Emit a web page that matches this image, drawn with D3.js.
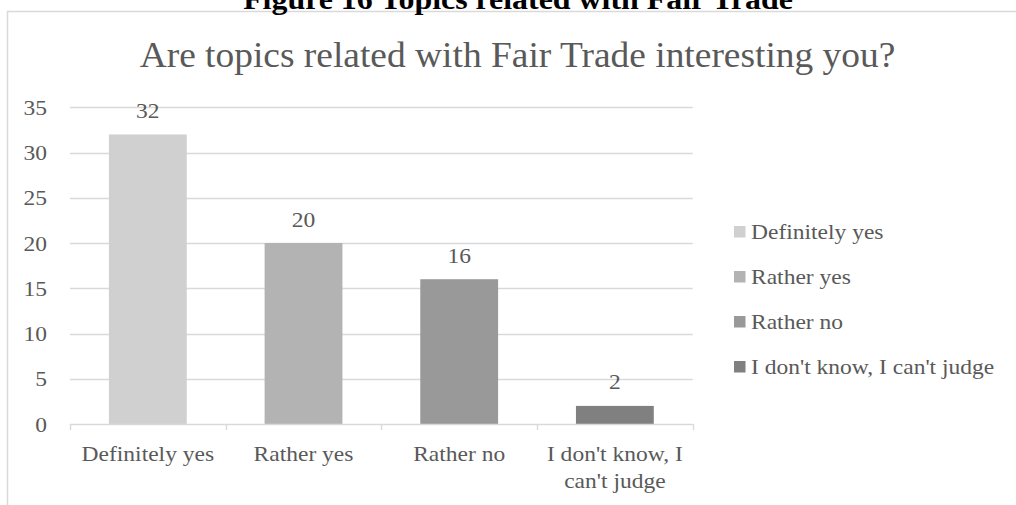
<!DOCTYPE html>
<html><head><meta charset="utf-8">
<script src="https://cdn.jsdelivr.net/npm/d3@7"></script>
<style>html,body{margin:0;padding:0;background:#fff;}svg{display:block;}</style>
</head><body>
<svg id="c" width="1016" height="505"></svg>
<script>
const categories = ["Definitely yes", "Rather yes", "Rather no", "I don't know, I can't judge"];
const categoryLines = [["Definitely yes"], ["Rather yes"], ["Rather no"], ["I don't know, I", "can't judge"]];
const values = [32, 20, 16, 2];
const colors = ["#d0d0d0", "#b3b3b3", "#999999", "#808080"];
const yTicks = [0, 5, 10, 15, 20, 25, 30, 35];
const caption = "Figure 16 Topics related with Fair Trade";
const title = "Are topics related with Fair Trade interesting you?";

const svg = d3.select("#c");
const font = "'Liberation Serif','Times New Roman',serif";
const txt = "#595959";
const grid = "#d9d9d9";
const FS = 21, SX = 1.12;

// helper: horizontally stretched text
function stext(parent, x, y, str, opts) {
  opts = opts || {};
  const sx = opts.sx || SX;
  const t = parent.append("text")
    .attr("transform", `translate(${x},${y}) scale(${sx},1)`)
    .attr("text-anchor", opts.anchor || "start")
    .attr("font-family", font)
    .attr("font-size", opts.size || FS)
    .attr("font-weight", opts.weight || "normal")
    .attr("fill", opts.fill || txt)
    .text(str);
  return t;
}

// chart border
svg.append("rect").attr("x", 7.5).attr("y", 11.5).attr("width", 1030).attr("height", 520)
  .attr("fill", "none").attr("stroke", grid).attr("stroke-width", 1.5);

// caption (cut off at top as in the reference)
stext(svg, 518, 9, caption, {anchor: "middle", size: 29, weight: "bold", fill: "#000", sx: 1.1});

// title
stext(svg, 517.5, 67, title, {anchor: "middle", size: 36, sx: 1.04});

const x = d3.scaleBand().domain(categories).range([70, 692.7]).paddingInner(0.5).paddingOuter(0.25);
const y = d3.scaleLinear().domain([0, 35]).range([424, 107.3]);

// gridlines
svg.append("g").selectAll("line").data(yTicks.filter(d => d > 0)).join("line")
  .attr("x1", 70).attr("x2", 692.7).attr("y1", d => Math.round(y(d)) + 0.5).attr("y2", d => Math.round(y(d)) + 0.5)
  .attr("stroke", grid).attr("stroke-width", 1.4);

// y tick labels
const yl = svg.append("g");
yTicks.forEach(d => stext(yl, 47, y(d) + 7.5, d, {anchor: "end"}));

// bars
svg.append("g").selectAll("rect").data(values).join("rect")
  .attr("x", (d, i) => x(categories[i])).attr("width", x.bandwidth())
  .attr("y", d => y(d)).attr("height", d => y(0) - y(d))
  .attr("fill", (d, i) => colors[i]);

// x axis
const xAxis = svg.append("g");
xAxis.append("line").attr("x1", 70).attr("x2", 692.7).attr("y1", 424.5).attr("y2", 424.5)
  .attr("stroke", grid).attr("stroke-width", 1.4);
const bounds = d3.range(categories.length + 1).map(i => x.range()[0] + i * x.step() * (x.range()[1] - x.range()[0]) / (x.step() * categories.length));
xAxis.selectAll(".tk").data(bounds).join("line").attr("class", "tk")
  .attr("x1", d => Math.round(d) + 0.5).attr("x2", d => Math.round(d) + 0.5).attr("y1", 424).attr("y2", 430)
  .attr("stroke", grid).attr("stroke-width", 1.4);

// category labels
categories.forEach((c, i) => {
  const cx = x(c) + x.bandwidth() / 2;
  categoryLines[i].forEach((ln, j) => stext(svg, cx, 461 + j * 27, ln, {anchor: "middle"}));
});

// data labels
values.forEach((v, i) => stext(svg, x(categories[i]) + x.bandwidth() / 2, y(v) - 16.5, v, {anchor: "middle"}));

// legend
const lg = svg.append("g");
categories.forEach((c, i) => {
  lg.append("rect").attr("x", 734).attr("y", 226 + i * 45).attr("width", 11.5).attr("height", 11.5).attr("fill", colors[i]);
  stext(lg, 751, 238.5 + i * 45, c);
});
</script>
</body></html>
